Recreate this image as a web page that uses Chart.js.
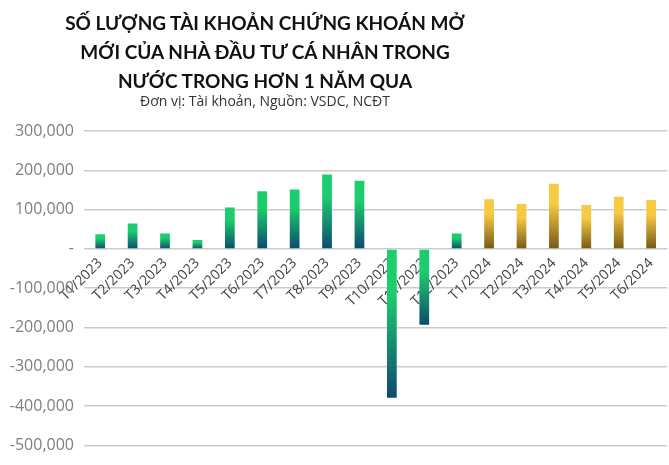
<!DOCTYPE html>
<html>
<head>
<meta charset="utf-8">
<script src="https://cdn.jsdelivr.net/npm/chart.js@4.4.1/dist/chart.umd.min.js"></script>
<style>
  body { margin: 0; background: #fff; }
  #wrap { position: relative; width: 669px; height: 465px; }
  #title {
    position: absolute; left: 0; top: 8px; width: 530px; text-align: center;
    font-family: Lato, sans-serif; font-weight: bold; font-size: 19px;
    line-height: 29px; color: #111;
  }
  #sub {
    position: absolute; left: 0; top: 91px; width: 530px; text-align: center;
    font-family: "Open Sans", sans-serif; font-size: 14px; color: #333;
  }
  canvas { position: absolute; left: 0; top: 0; }
</style>
</head>
<body>
<div id="wrap">
  <canvas id="chart" width="669" height="465"></canvas>
  <div id="title">SỐ LƯỢNG TÀI KHOẢN CHỨNG KHOÁN MỞ<br>MỚI CỦA NHÀ ĐẦU TƯ CÁ NHÂN TRONG<br>NƯỚC TRONG HƠN 1 NĂM QUA</div>
  <div id="sub">Đơn vị: Tài khoản, Nguồn: VSDC, NCĐT</div>
</div>
<script>
var months = ["T1/2023", "T2/2023", "T3/2023", "T4/2023", "T5/2023", "T6/2023",
  "T7/2023", "T8/2023", "T9/2023", "T10/2023", "T11/2023", "T12/2023",
  "T1/2024", "T2/2024", "T3/2024", "T4/2024", "T5/2024", "T6/2024"];
var newAccounts = [37500, 64500, 39500, 22500, 105500, 146500,
  151000, 189500, 173500, -378500, -193000, 39500,
  126500, 114000, 165500, 111500, 132500, 124500];

var green = ["#1ccd6d", "#0c4a6e"];
var gold = ["#f8ca44", "#765818"];

function barFill(c) {
  var chart = c.chart;
  var pal = months[c.dataIndex] && months[c.dataIndex].indexOf("2024") > 0 ? gold : green;
  if (!chart.chartArea || c.type !== "data") return pal[0];
  var y = chart.scales.y;
  var v = c.raw;
  var top = y.getPixelForValue(Math.max(v, 0));
  var bottom = y.getPixelForValue(Math.min(v, 0));
  var g = chart.ctx.createLinearGradient(0, top, 0, bottom);
  g.addColorStop(0, pal[0]);
  g.addColorStop(0.3, pal[0]);
  g.addColorStop(1, pal[1]);
  return g;
}

var ctx = document.getElementById("chart").getContext("2d");
var myChart = new Chart(ctx, {
  type: "bar",
  data: {
    labels: months,
    datasets: [{
      label: "Tài khoản",
      data: newAccounts,
      backgroundColor: barFill,
      borderWidth: 0,
      barPercentage: 0.3,
      categoryPercentage: 1
    }]
  },
  options: {
    responsive: false,
    animation: false,
    layout: { padding: { top: 131, bottom: 16, left: 0, right: 0 } },
    plugins: { legend: { display: false }, tooltip: { enabled: false } },
    scales: {
      x: {
        position: { y: 0 },
        grid: { display: false, drawTicks: false },
        border: { display: false },
        ticks: {
          autoSkip: false, minRotation: 45, maxRotation: 45, padding: 6,
          color: "#404040", font: { family: "Open Sans", size: 14 }
        },
        afterFit: function(scale) { scale.height = 0; }
      },
      y: {
        min: -500000, max: 300000,
        grid: { color: "#cccccc", lineWidth: 1.5, drawTicks: false },
        border: { display: false },
        ticks: {
          stepSize: 100000, padding: 10, color: "#7f7f7f",
          font: { family: "Open Sans", size: 16 },
          callback: function(v) { return v === 0 ? "-" : v.toLocaleString("en-US"); }
        },
        afterFit: function(scale) { scale.width = 84; }
      }
    }
  }
});
</script>
</body>
</html>
